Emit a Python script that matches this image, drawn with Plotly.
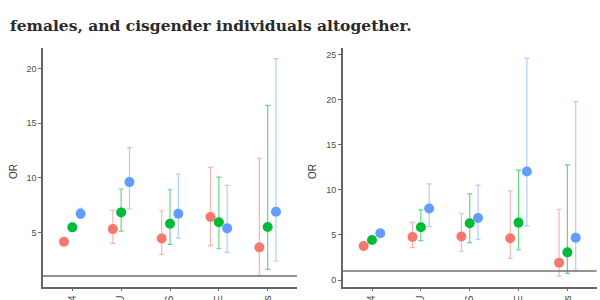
import plotly.graph_objects as go

categories = ["PHQ-4", "AUDIT-U", "PSS", "CAGE", "Suicidal thoughts"]
groups = ["red", "green", "blue"]

# Left panel: OR, lower CI, upper CI per group
left_or = {
    "red":   [4.15, 5.30, 4.45, 6.40, 3.63],
    "green": [5.46, 6.83, 5.79, 5.92, 5.49],
    "blue":  [6.71, 9.60, 6.71, 5.37, 6.89],
}
left_lo = {
    "red":   [4.00, 4.00, 2.99, 3.78, 1.07],
    "green": [5.25, 5.12, 3.90, 3.50, 1.62],
    "blue":  [6.30, 7.14, 4.48, 3.17, 2.38],
}
left_hi = {
    "red":   [4.35, 7.00, 6.98, 10.95, 11.77],
    "green": [5.65, 8.97, 8.90, 10.05, 16.62],
    "blue":  [7.20, 12.75, 10.34, 9.30, 20.89],
}

right_or = {
    "red":   [3.78, 4.78, 4.82, 4.63, 1.93],
    "green": [4.44, 5.85, 6.30, 6.37, 3.07],
    "blue":  [5.19, 7.93, 6.89, 12.04, 4.70],
}
right_lo = {
    "red":   [3.60, 3.60, 3.19, 2.41, 0.44],
    "green": [4.25, 4.37, 4.15, 3.33, 0.74],
    "blue":  [5.00, 5.93, 4.52, 6.00, 1.11],
}
right_hi = {
    "red":   [3.95, 6.40, 7.41, 9.90, 7.85],
    "green": [4.65, 7.78, 9.56, 12.20, 12.78],
    "blue":  [5.40, 10.67, 10.52, 24.60, 19.80],
}

colors = {"red": "#F8766D", "green": "#00BA38", "blue": "#619CFF"}
bar_colors = {"red": "rgba(248,118,109,0.55)", "green": "rgba(0,186,56,0.6)",
              "blue": "rgba(97,156,255,0.5)"}
offsets = {"red": -0.17, "green": 0.0, "blue": 0.17}

fig = go.Figure()

def add_panel(or_d, lo_d, hi_d, xa, ya):
    for g in groups:
        xs = [i + offsets[g] for i in range(len(categories))]
        plus = [h - o for h, o in zip(hi_d[g], or_d[g])]
        minus = [o - l for o, l in zip(or_d[g], lo_d[g])]
        fig.add_trace(go.Scatter(
            x=xs, y=or_d[g], mode="markers", xaxis=xa, yaxis=ya,
            marker=dict(color=colors[g], size=10, line=dict(width=0)),
            error_y=dict(type="data", array=plus, arrayminus=minus,
                         color=bar_colors[g], thickness=1.2, width=2.5),
            showlegend=False, hoverinfo="skip"))

add_panel(left_or, left_lo, left_hi, "x", "y")
add_panel(right_or, right_lo, right_hi, "x2", "y2")

axis_col = "#666666"
tick_font = dict(family="Liberation Sans, Arial, sans-serif", size=9, color="#4d4d4d")
xtick_font = dict(family="Liberation Sans, Arial, sans-serif", size=10, color="#4d4d4d")
ydom = [1 - 286.7 / 300, 1 - 48 / 300]

common_x = dict(range=[-0.6, 4.6], tickvals=list(range(len(categories))),
                ticktext=categories, tickangle=-90, showgrid=False, zeroline=False,
                showline=True, linecolor=axis_col, linewidth=1.5, ticks="outside",
                ticklen=3, tickcolor=axis_col, tickfont=xtick_font, automargin=False)
common_y = dict(showgrid=False, zeroline=False, showline=True, linecolor=axis_col,
                linewidth=1.5, ticks="outside", ticklen=3, tickcolor=axis_col,
                tickfont=tick_font, automargin=False, domain=ydom)

fig.update_layout(
    width=600, height=300,
    margin=dict(l=0, r=0, t=0, b=0),
    paper_bgcolor="white", plot_bgcolor="white",
    xaxis=dict(domain=[43 / 600, 297 / 600], anchor="y", **common_x),
    yaxis=dict(range=[0.03, 21.87], tickvals=[5, 10, 15, 20], anchor="x", **common_y),
    xaxis2=dict(domain=[342.7 / 600, 596.7 / 600], anchor="y2", **common_x),
    yaxis2=dict(range=[-0.74, 25.74], tickvals=[0, 5, 10, 15, 20, 25], anchor="x2", **common_y),
    shapes=[
        dict(type="line", xref="x domain", yref="y", x0=0, x1=1, y0=1, y1=1,
             line=dict(color="#707070", width=1.5)),
        dict(type="line", xref="x2 domain", yref="y2", x0=0, x1=1, y0=1, y1=1,
             line=dict(color="#707070", width=1.5)),
    ],
    annotations=[
        dict(text="females, and cisgender individuals altogether.", xref="paper", yref="paper",
             x=8 / 600, y=1 - 25 / 300, xanchor="left", yanchor="middle", showarrow=False,
             font=dict(family="DejaVu Serif, serif", size=15.5, color="#2a2a2a", weight="bold")),
        dict(text="OR", xref="paper", yref="paper", x=13 / 600, y=1 - 172 / 300,
             textangle=-90, showarrow=False, xanchor="center", yanchor="middle",
             font=dict(family="Liberation Sans, Arial, sans-serif", size=10, color="#333333")),
        dict(text="OR", xref="paper", yref="paper", x=312 / 600, y=1 - 172 / 300,
             textangle=-90, showarrow=False, xanchor="center", yanchor="middle",
             font=dict(family="Liberation Sans, Arial, sans-serif", size=10, color="#333333")),
    ],
)

fig.write_html("out.html")
